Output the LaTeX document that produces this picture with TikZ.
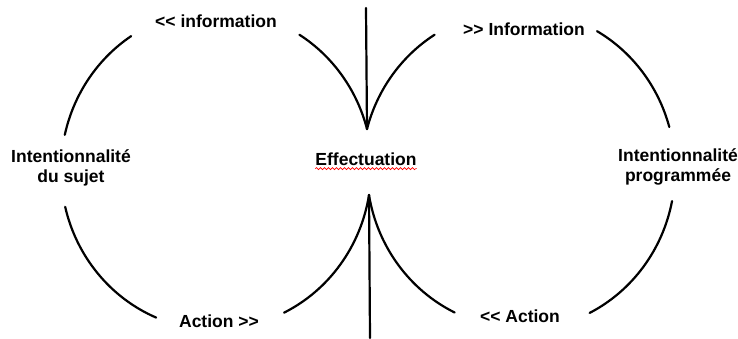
\documentclass[tikz,border=0pt]{standalone}
\usepackage{fontspec}
\setmainfont{Liberation Sans}[Ligatures=TeXOff]
\usetikzlibrary{decorations.pathmorphing}
\begin{document}
\begin{tikzpicture}[x=1pt,y=1pt]
        \tikzstyle{curve} = [line width=2.2pt, line cap=round]
        \tikzstyle{lbl} = [inner sep=0pt, align=center, font=\fontsize{17.5}{19.5}\selectfont\bfseries]
        \useasboundingbox (0,0) rectangle (738,338);

        \coordinate (L) at (216,168);
        \coordinate (R) at (520,168);
        \coordinate (tiptop) at (367,209);
        \coordinate (tipbot) at (369,143);
        \coordinate (top) at (366,330);
        \coordinate (bot) at (370,0);

        \node (infoL) [lbl] at (216,317) {<\kern0pt< information};
        \node (infoR) [lbl] at (524,309) {>\kern0pt> Information};
        \node (sujet) [lbl] at (71,170) {Intentionnalité\\du sujet};
        \node (eff) [lbl] at (366,179) {Effectuation};
        \node (prog) [lbl] at (678,171) {Intentionnalité\\programmée};
        \node (actL) [lbl] at (219,17) {Action >\kern0pt>};
        \node (actR) [lbl] at (520,22) {<\kern0pt< Action};

        \draw [red, line width=0.6pt, decorate, decoration={snake, amplitude=1pt, segment length=4pt}]
            ([yshift=-3pt]eff.south west) -- ([yshift=-3pt]eff.south east);

        \draw [curve] (top) -- (tiptop);
        \draw [curve] (tipbot) -- (bot);

        \draw [curve] ([shift={(167.3:155 and 160)}]L) arc[start angle=167.3, end angle=123.2, x radius=155, y radius=160];
        \draw [curve] ([shift={(193.3:155 and 160)}]L) arc[start angle=193.3, end angle=247.3, x radius=155, y radius=160];
        \draw [curve] (tiptop) arc[start angle=15, end angle=58, x radius=155, y radius=160];
        \draw [curve] (tipbot) arc[start angle=-9.4, end angle=-64, x radius=155, y radius=160];

        \draw [curve] (tiptop) arc[start angle=165, end angle=122, x radius=155, y radius=160];
        \draw [curve] (tipbot) arc[start angle=189.6, end angle=244.3, x radius=155, y radius=160];
        \draw [curve] ([shift={(60.2:155 and 160)}]R) arc[start angle=60.2, end angle=15.6, x radius=155, y radius=160];
        \draw [curve] ([shift={(-11.2:155 and 160)}]R) arc[start angle=-11.2, end angle=-63.3, x radius=155, y radius=160];

    \end{tikzpicture}
\end{document}
